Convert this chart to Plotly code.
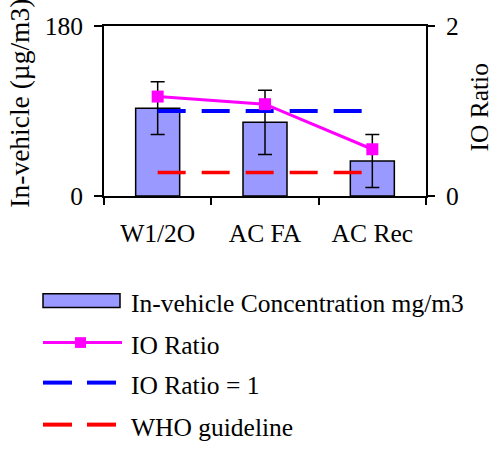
import plotly.graph_objects as go

# ---- data ----
categories = ["W1/2O", "AC FA", "AC Rec"]
concentration = [93, 78, 37]          # in-vehicle, µg/m3
concentration_err = [28, 34, 28]
io_ratio = [1.17, 1.08, 0.55]
io_ratio_ref = [1, 1, 1]
who_guideline = [25, 25, 25]
left_ticks = [0, 180]
right_ticks = [0, 2]

FONT = "'Liberation Serif', 'Times New Roman', serif"
FS = 25.5
W, H = 494, 450
ML, MR, MT, MB = 104, 68, 22, 254
PW, PH = W - ML - MR, H - MT - MB


def px(x):
    return (x - ML) / PW


def py(y):
    return (H - MB - y) / PH


fig = go.Figure()

fig.add_trace(go.Bar(
    x=categories, y=concentration, yaxis="y",
    marker=dict(color="#9999FF", line=dict(color="black", width=1.5)),
    error_y=dict(type="data", array=concentration_err, color="black",
                 thickness=1.5, width=7),
    width=0.41, showlegend=False,
))
fig.add_trace(go.Scatter(
    x=categories, y=who_guideline, yaxis="y", mode="lines",
    line=dict(color="#FF0000", width=3.5, dash="28px,16px"), showlegend=False,
))
fig.add_trace(go.Scatter(
    x=categories, y=io_ratio_ref, yaxis="y2", mode="lines",
    line=dict(color="#0000FF", width=4, dash="28px,16px"), showlegend=False,
))
fig.add_trace(go.Scatter(
    x=categories, y=io_ratio, yaxis="y2", mode="lines+markers",
    line=dict(color="#FF00FF", width=3),
    marker=dict(symbol="square", size=12, color="#FF00FF"),
    showlegend=False,
))

axis_common = dict(showline=True, linecolor="black", linewidth=2,
                   ticks="outside", tickcolor="black", tickwidth=2,
                   showgrid=False, zeroline=False,
                   tickfont=dict(family=FONT, size=FS, color="black"))

fig.update_layout(
    width=W, height=H,
    margin=dict(l=ML, r=MR, t=MT, b=MB, pad=0),
    paper_bgcolor="white", plot_bgcolor="white",
    font=dict(family=FONT, size=FS, color="black"),
    xaxis=dict(type="category", range=[-0.5, 2.5], tickson="boundaries",
               ticklen=7, mirror=True, ticklabelstandoff=13, **axis_common),
    yaxis=dict(range=[0, 180], tickvals=left_ticks, ticklen=8,
               ticklabelstandoff=6, **axis_common),
    yaxis2=dict(range=[0, 2], tickvals=right_ticks, overlaying="y",
                side="right", ticklen=7, ticklabelstandoff=6, **axis_common),
    showlegend=False,
)

# axis titles
fig.add_annotation(text="In-vehicle (µg/m3)", xref="paper", yref="paper",
                   x=px(20), y=py(101.5), xanchor="center", yanchor="middle",
                   textangle=-90, showarrow=False,
                   font=dict(family=FONT, size=27.5, color="black"))
fig.add_annotation(text="IO Ratio", xref="paper", yref="paper",
                   x=px(480), y=py(105.5), xanchor="center", yanchor="middle",
                   textangle=-90, showarrow=False,
                   font=dict(family=FONT, size=FS, color="black"))

# legend block below the plot
legend_rows = [
    ("In-vehicle Concentration mg/m3", 303),
    ("IO Ratio", 346),
    ("IO Ratio = 1", 387),
    ("WHO guideline", 430),
]
for label, yc in legend_rows:
    fig.add_annotation(text=label, xref="paper", yref="paper",
                       x=px(129), y=py(yc + 3), xanchor="left",
                       yanchor="middle", showarrow=False,
                       font=dict(family=FONT, size=FS, color="black"))

shapes = []
shapes.append(dict(type="rect", xref="paper", yref="paper",
                   x0=px(43), x1=px(120), y0=py(310), y1=py(296),
                   fillcolor="#9999FF", line=dict(color="black", width=1.5)))
shapes.append(dict(type="line", xref="paper", yref="paper",
                   x0=px(43), x1=px(122), y0=py(346), y1=py(346),
                   line=dict(color="#FF00FF", width=3)))
shapes.append(dict(type="rect", xref="paper", yref="paper",
                   x0=px(75), x1=px(86), y0=py(351.5), y1=py(340.5),
                   fillcolor="#FF00FF", line=dict(width=0)))
for yc, col in ((387, "#0000FF"), (430, "#FF0000")):
    for a, b in ((43, 72), (87, 116)):
        shapes.append(dict(type="line", xref="paper", yref="paper",
                           x0=px(a), x1=px(b), y0=py(yc), y1=py(yc),
                           line=dict(color=col, width=4)))
fig.update_layout(shapes=shapes)

fig.write_html("out.html")
